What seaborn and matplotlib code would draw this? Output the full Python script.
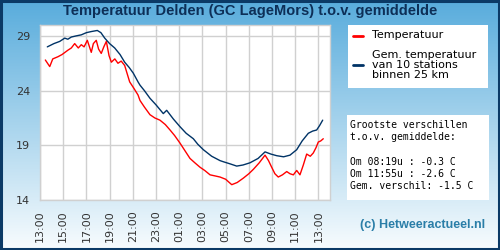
import numpy as np
import pandas as pd
import matplotlib
matplotlib.use("Agg")
import matplotlib.pyplot as plt
import matplotlib.dates as mdates
import seaborn as sns
from matplotlib.patches import Rectangle
from matplotlib.lines import Line2D

# ---- data (hours after 13:00 on day 1, temperature in C) ----
red_hours = [0.46, 0.84, 1.10, 1.55, 1.90, 2.41, 2.70, 2.99, 3.30, 3.56, 3.80, 4.08,
             4.42, 4.60, 4.85, 5.05, 5.28, 5.50, 5.72, 5.95, 6.15, 6.45, 6.72, 7.00,
             7.30, 7.50, 7.73, 8.10, 8.45, 8.62, 9.00, 9.48, 9.90, 10.34, 10.80, 11.21,
             11.60, 12.07, 12.50, 12.93, 13.35, 13.79, 14.20, 14.66, 15.10, 15.52,
             16.00, 16.53, 17.00, 17.53, 18.00, 18.39, 18.90, 19.40, 19.70, 19.97,
             20.25, 20.54, 20.90, 21.27, 21.55, 21.84, 22.13, 22.41, 22.70, 22.99,
             23.30, 23.56, 23.80, 23.99, 24.20, 24.42]
red_temp = [26.8, 26.2, 26.9, 27.1, 27.3, 27.7, 27.9, 28.3, 27.9, 28.2, 28.0, 28.6,
            27.5, 28.3, 28.6, 27.8, 27.4, 28.0, 28.5, 27.2, 26.6, 26.9, 26.5, 26.7,
            26.3, 25.6, 24.8, 24.2, 23.6, 23.1, 22.5, 21.8, 21.5, 21.3, 20.9, 20.4,
            19.9, 19.2, 18.5, 17.8, 17.4, 17.0, 16.7, 16.3, 16.2, 16.1,
            15.9, 15.4, 15.6, 16.0, 16.4, 16.8, 17.4, 18.1, 17.6, 17.0,
            16.4, 16.1, 16.3, 16.6, 16.4, 16.3, 16.7, 16.3, 17.2, 18.2,
            18.0, 18.3, 18.8, 19.3, 19.4, 19.6]

blue_hours = [0.63, 1.20, 1.70, 2.13, 2.40, 2.70, 3.10, 3.56, 4.00, 4.42, 4.94, 5.25,
              5.58, 6.00, 6.44, 6.90, 7.30, 7.70, 8.04, 8.45, 8.62, 9.00, 9.48,
              10.00, 10.63, 10.92, 11.50, 12.07, 12.60, 13.22, 13.60, 14.08, 14.80,
              15.52, 15.80, 16.40, 16.96, 17.50, 18.10, 18.80, 19.40, 19.90, 20.41,
              21.00, 21.55, 22.13, 22.60, 23.13, 23.50, 23.85, 24.10, 24.37]
blue_temp = [28.0, 28.3, 28.5, 28.8, 28.7, 28.9, 29.0, 29.1, 29.3, 29.4, 29.5, 29.3,
             28.8, 28.3, 27.9, 27.3, 26.6, 26.1, 25.6, 24.8, 24.5, 24.0, 23.3,
             22.7, 21.9, 22.2, 21.4, 20.7, 20.1, 19.6, 19.1, 18.6, 18.0,
             17.6, 17.5, 17.3, 17.1, 17.2, 17.4, 17.8, 18.4, 18.2, 18.05,
             17.95, 18.1, 18.6, 19.4, 20.1, 20.3, 20.4, 20.8, 21.3]

y_ticks = [14, 19, 24, 29]
title = "Temperatuur Delden (GC LageMors) t.o.v. gemiddelde"
legend_labels = ["Temperatuur", "Gem. temperatuur\nvan 10 stations\nbinnen 25 km"]
stats_text = ("Grootste verschillen\nt.o.v. gemiddelde:\n\n"
              "Om 08:19u : -0.3 C\nOm 11:55u : -2.6 C\nGem. verschil: -1.5 C")
credit = "(c) Hetweeractueel.nl"

start = pd.Timestamp("2024-07-01 13:00")
red_df = pd.DataFrame({"time": start + pd.to_timedelta(red_hours, unit="h"), "temp": red_temp})
blue_df = pd.DataFrame({"time": start + pd.to_timedelta(blue_hours, unit="h"), "temp": blue_temp})

sns.set_theme(style="white")
plt.rcParams['font.family'] = ['DejaVu Sans']

fig = plt.figure(figsize=(5, 2.5), dpi=100)

# gradient background
bg = fig.add_axes([0, 0, 1, 1], zorder=-10)
grad = np.linspace(0, 1, 256)[:, None]
top = np.array([0x58, 0xac, 0xdc]) / 255
bot = np.array([0xf8, 0xfc, 0xfe]) / 255
img = top[None, None, :] * (1 - grad[:, :, None]) + bot[None, None, :] * grad[:, :, None]
img = np.repeat(img, 2, axis=1)
bg.imshow(img, aspect="auto", extent=[0, 1, 0, 1], origin="upper")
bg.set_xlim(0, 1); bg.set_ylim(0, 1)
bg.axis("off")
bg.add_patch(Rectangle((0.002, 0.004), 0.996, 0.992, fill=False, edgecolor="#0b3a66", lw=2.2,
                       transform=bg.transAxes))

ax = fig.add_axes([40/500, 50/250, 290/500, 175/250])
ax.set_facecolor("white")
sns.lineplot(data=red_df, x="time", y="temp", ax=ax, color="#ff0000", lw=1.0)
sns.lineplot(data=blue_df, x="time", y="temp", ax=ax, color="#003366", lw=1.0)

ax.set_xlim(start, start + pd.Timedelta(hours=25))
ax.set_ylim(14, 30)
ax.set_yticks(y_ticks)
ax.xaxis.set_major_locator(mdates.HourLocator(byhour=range(1, 24, 2)))
ax.xaxis.set_major_formatter(mdates.DateFormatter("%H:%M"))
ax.grid(True, color="#d0d0d0", lw=1.0)
ax.set_axisbelow(True)
for s in ax.spines.values():
    s.set_color("#d0d0d0")
    s.set_linewidth(1.0)
ax.tick_params(axis="x", labelrotation=90, labelsize=8, colors="#333333", length=0, pad=7.5)
ax.tick_params(axis="y", labelsize=8, colors="#333333", length=0, pad=7)
ax.set_xlabel(""); ax.set_ylabel("")

fig.text(0.5, 0.955, title, ha="center", va="center", fontsize=10.5, fontweight="bold",
         color="#0d2f57", family="Liberation Sans")

# legend box
fig.add_artist(Rectangle((348/500, 1 - 88/250), 140/500, 63/250, facecolor="white",
                         edgecolor="none", transform=fig.transFigure))
fig.add_artist(Line2D([353/500, 363/500], [1 - 36/250] * 2, color="#ff0000", lw=2,
                      transform=fig.transFigure))
fig.add_artist(Line2D([353/500, 363/500], [1 - 65/250] * 2, color="#003366", lw=2,
                      transform=fig.transFigure))
fig.text(372/500, 1 - 35/250, legend_labels[0], fontsize=8, va="center", ha="left", color="black")
fig.text(372/500, 1 - 65/250, legend_labels[1], fontsize=8, va="center", ha="left",
         color="black", linespacing=0.95)

# stats box
fig.add_artist(Rectangle((347/500, 1 - 200/250), 142/500, 85/250, facecolor="white",
                         edgecolor="none", transform=fig.transFigure))
fig.text(350/500, 1 - 120/250, stats_text, fontsize=7, va="top", ha="left",
         family="DejaVu Sans Mono", color="black", linespacing=1.28)

fig.text(423/500, 1 - 225/250, credit, fontsize=9, fontweight="bold", ha="center",
         va="center", color="#2a7ea8", family="Liberation Sans")

fig.savefig("out.png", dpi=100)
